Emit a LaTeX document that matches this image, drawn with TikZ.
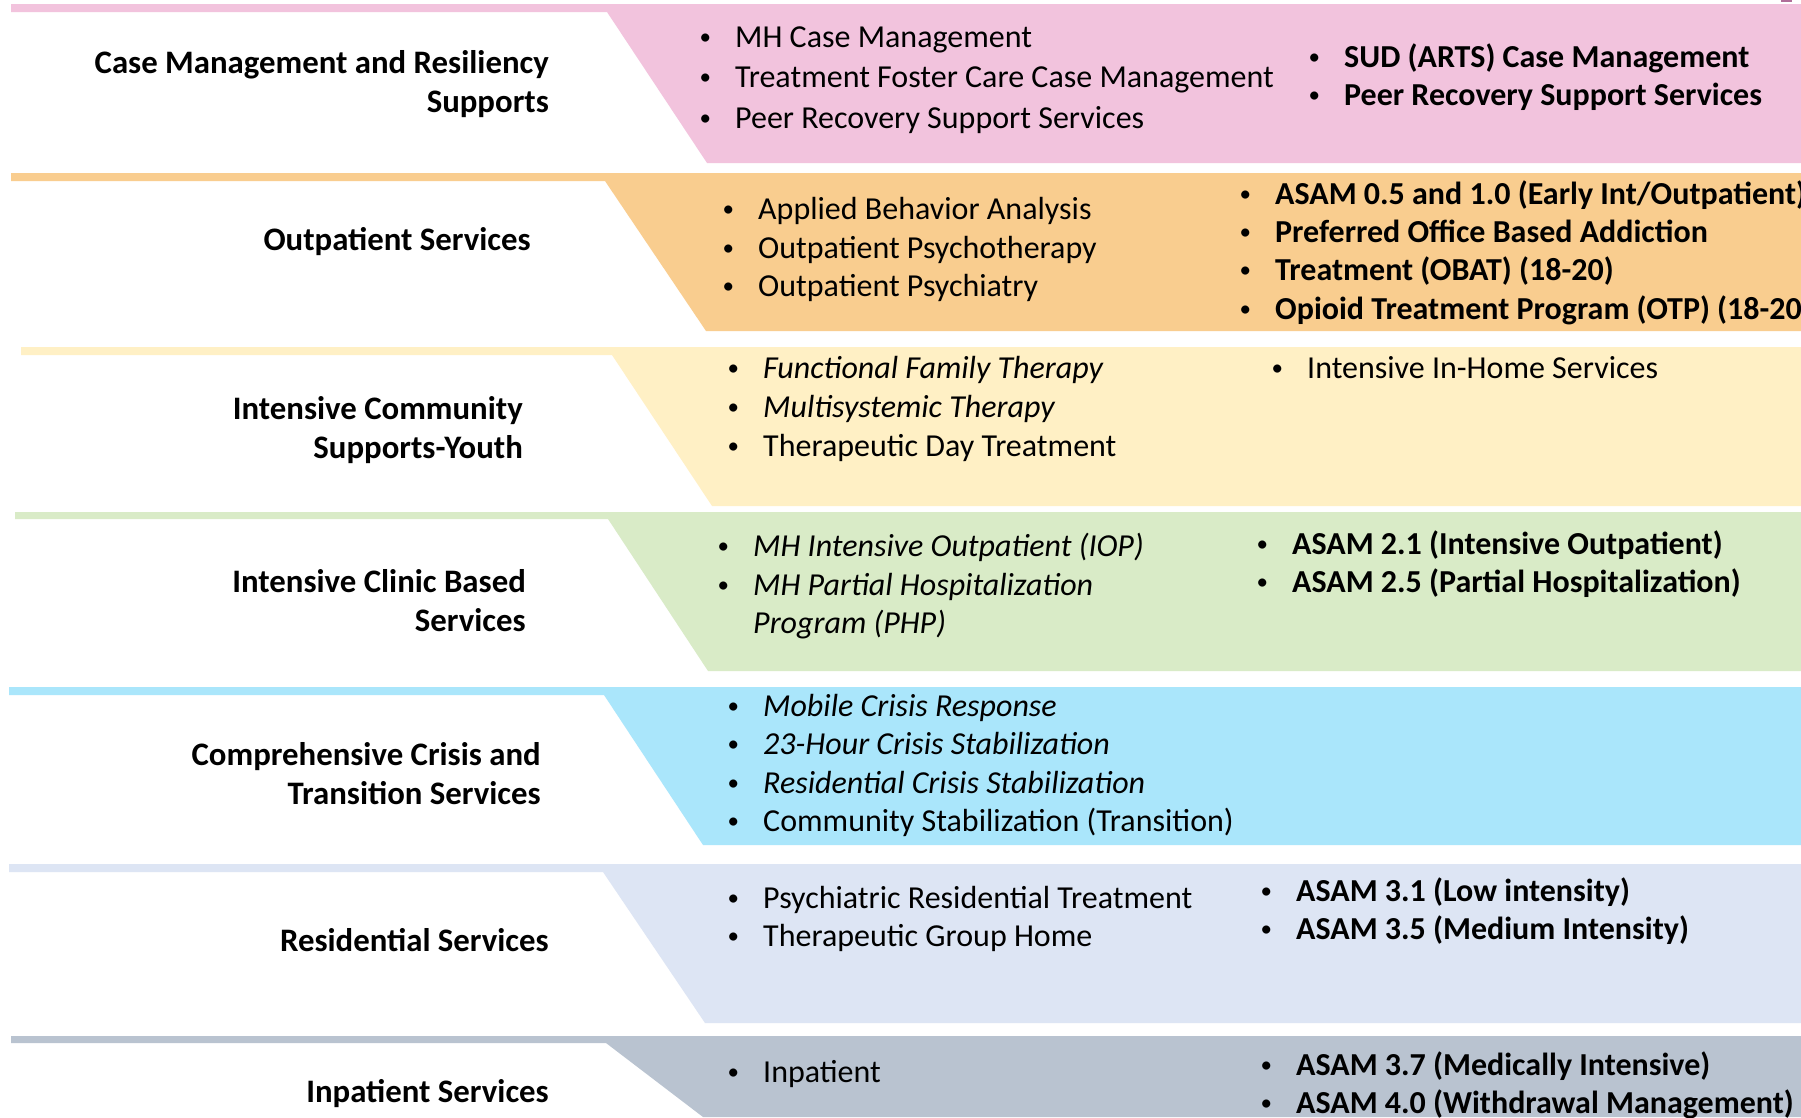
\documentclass[tikz,border=0pt]{standalone}
\usepackage{fontspec}
\usepackage{graphicx}
\setmainfont{Carlito}
\definecolor{cmPink}{HTML}{F2C3DD}
\definecolor{cmPinkDark}{HTML}{B06E99}
\definecolor{cmOrange}{HTML}{F9CD8F}
\definecolor{cmYellow}{HTML}{FFF0C5}
\definecolor{cmGreen}{HTML}{D9EBC7}
\definecolor{cmBlue}{HTML}{AAE6FB}
\definecolor{cmLav}{HTML}{DDE5F4}
\definecolor{cmGray}{HTML}{B9C3D0}
% small list bullet followed by the item text
\newcommand{\bulmark}{\makebox[36pt][l]{\hspace{0.5pt}\raisebox{0.08em}{\scalebox{0.72}{\normalfont\textbullet}}}}
\newcommand{\bul}[1]{\bulmark#1}
\newcommand{\nobul}[1]{\makebox[36pt][l]{}#1}
\begin{document}
\begin{tikzpicture}[x=1pt,y=-1pt,
  lab/.style={anchor=base east, inner sep=0pt, font=\fontsize{32.8}{39}\selectfont\bfseries},
  item/.style={anchor=base west, inner sep=0pt, font=\fontsize{32}{39}\selectfont},
  bitem/.style={item, font=\fontsize{32}{39}\selectfont\bfseries},
  iitem/.style={item, font=\fontsize{32}{39}\selectfont\itshape}]
\useasboundingbox (0,0) rectangle (1801,1117);
\clip (0,0) rectangle (1801,1117);
\fill[white] (0,0) rectangle (1801,1117);

% tier shapes: thin top strip plus slanted panel
\fill[cmPink]   (11,4)   -- (1801,4)   -- (1801,163)  -- (707,163)  -- (607,12)  -- (11,12)  -- cycle;
\fill[cmOrange] (11,173) -- (1801,173) -- (1801,331)  -- (706,331)  -- (605,181) -- (11,181) -- cycle;
\fill[cmYellow] (21,347) -- (1801,347) -- (1801,506)  -- (712,506)  -- (612,355) -- (21,355) -- cycle;
\fill[cmGreen]  (15,512) -- (1801,512) -- (1801,671)  -- (708,671)  -- (608,519) -- (15,519) -- cycle;
\fill[cmBlue]   (9,687)  -- (1801,687) -- (1801,845)  -- (703,845)  -- (604,695) -- (9,695)  -- cycle;
\fill[cmLav]    (9,864)  -- (1801,864) -- (1801,1023) -- (705,1023) -- (603,872) -- (9,872)  -- cycle;
\fill[cmGray]   (11,1036) -- (1801,1036) -- (1801,1117) -- (703,1117) -- (606,1043) -- (11,1043) -- cycle;
\fill[cmPinkDark] (1781,0) rectangle (1792,1.5);

% tier 1
\node[lab] (t1a) at (549,73) {Case Management and Resiliency};
\node[lab] (t1b) at (549,112) {Supports};
\node[item] (t1l1) at (699,47) {\bul{MH Case Management}};
\node[item] (t1l2) at (699,87) {\bul{Treatment Foster Care Case Management}};
\node[item] (t1l3) at (699,128) {\bul{Peer Recovery Support Services}};
\node[bitem] (t1r1) at (1308,67) {\bul{SUD (ARTS) Case Management}};
\node[bitem] (t1r2) at (1308,105) {\bul{Peer Recovery Support Services}};

% tier 2
\node[lab] (t2a) at (531,250) {Outpatient Services};
\node[item] (t2l1) at (722,219) {\bul{Applied Behavior Analysis}};
\node[item] (t2l2) at (722,258) {\bul{Outpatient Psychotherapy}};
\node[item] (t2l3) at (722,296) {\bul{Outpatient Psychiatry}};
\node[bitem] (t2r1) at (1239,204) {\bul{ASAM 0.5 and 1.0 (Early Int/Outpatient)}};
\node[bitem] (t2r2) at (1239,242) {\bul{Preferred Office Based Addiction}};
\node[bitem] (t2r3) at (1239,280) {\bul{Treatment (OBAT) (18-20)}};
\node[bitem] (t2r4) at (1239,319) {\bul{Opioid Treatment Program (OTP) (18-20)}};

% tier 3
\node[lab] (t3a) at (523,419) {Intensive Community};
\node[lab] (t3b) at (523,458) {Supports-Youth};
\node[iitem] (t3l1) at (727,378) {\bul{Functional Family Therapy}};
\node[iitem] (t3l2) at (727,417) {\bul{Multisystemic Therapy}};
\node[item] (t3l3) at (727,456) {\bul{Therapeutic Day Treatment}};
\node[item] (t3r1) at (1271,378) {\bul{Intensive In-Home Services}};

% tier 4
\node[lab] (t4a) at (526,592) {Intensive Clinic Based};
\node[lab] (t4b) at (526,631) {Services};
\node[iitem] (t4l1) at (717,556) {\bul{MH Intensive Outpatient (IOP)}};
\node[iitem] (t4l2) at (717,595) {\bul{MH Partial Hospitalization}};
\node[iitem] (t4l3) at (717,633) {\nobul{Program (PHP)}};
\node[bitem] (t4r1) at (1256,554) {\bul{ASAM 2.1 (Intensive Outpatient)}};
\node[bitem] (t4r2) at (1256,592) {\bul{ASAM 2.5 (Partial Hospitalization)}};

% tier 5
\node[lab] (t5a) at (541,765) {Comprehensive Crisis and};
\node[lab] (t5b) at (541,804) {Transition Services};
\node[iitem] (t5l1) at (727,716) {\bul{Mobile Crisis Response}};
\node[iitem] (t5l2) at (727,754) {\bul{23-Hour Crisis Stabilization}};
\node[iitem] (t5l3) at (727,793) {\bul{Residential Crisis Stabilization}};
\node[item] (t5l4) at (727,831) {\bul{Community Stabilization (Transition)}};

% tier 6
\node[lab] (t6a) at (549,951) {Residential Services};
\node[item] (t6l1) at (727,908) {\bul{Psychiatric Residential Treatment}};
\node[item] (t6l2) at (727,946) {\bul{Therapeutic Group Home}};
\node[bitem] (t6r1) at (1260,901) {\bul{ASAM 3.1 (Low intensity)}};
\node[bitem] (t6r2) at (1260,939) {\bul{ASAM 3.5 (Medium Intensity)}};

% tier 7
\node[lab] (t7a) at (549,1102) {Inpatient Services};
\node[item] (t7l1) at (727,1082) {\bul{Inpatient}};
\node[bitem] (t7r1) at (1260,1075) {\bul{ASAM 3.7 (Medically Intensive)}};
\node[bitem] (t7r2) at (1260,1113) {\bul{ASAM 4.0 (Withdrawal Management)}};
\end{tikzpicture}
\end{document}
